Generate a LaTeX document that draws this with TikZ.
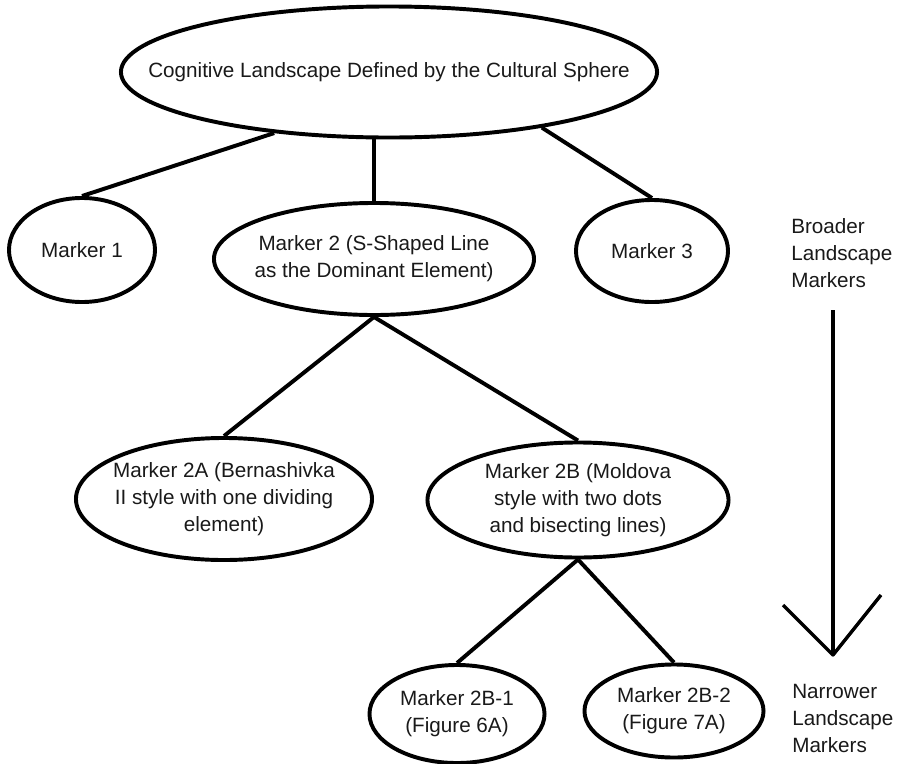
\documentclass[tikz,border=0pt]{standalone}
\usepackage{fontspec}
\setmainfont{Liberation Sans}
\usetikzlibrary{shapes.geometric}

\tikzset{
	marker/.style={ellipse, draw, line width=2.8pt, inner xsep=-1.6cm, inner ysep=0pt, align=center, text=black!90, font=\fontsize{14.7}{19.2}\selectfont},
	sidetext/.style={align=left, anchor=west, inner sep=0pt, text=black!90, font=\fontsize{14.7}{19.2}\selectfont},
	link/.style={line width=2.8pt},
	arrowline/.style={line width=2.4pt, line join=round}
}

\begin{document}
\begin{tikzpicture}[x=0.025cm, y=-0.025cm]
		\useasboundingbox (0,0) rectangle (904,764);

		\node[marker, minimum width=13.4cm, minimum height=3.275cm] (root) at (389,72) {Cognitive Landscape Defined by the Cultural Sphere};
		\node[marker, minimum width=3.65cm, minimum height=2.6cm] (m1) at (82,250) {Marker 1};
		\node[marker, minimum width=8cm, minimum height=2.8cm] (m2) at (374,259) {Marker 2 (S-Shaped Line\\as the Dominant Element)};
		\node[marker, minimum width=3.8cm, minimum height=2.55cm] (m3) at (652,251) {Marker 3};
		\node[marker, minimum width=7.4cm, minimum height=3.05cm] (m2a) at (224,499) {Marker 2A (Bernashivka\\II style with one dividing\\element)};
		\node[marker, minimum width=7.525cm, minimum height=2.875cm] (m2b) at (578,500) {Marker 2B (Moldova\\style with two dots\\and bisecting lines)};
		\node[marker, minimum width=4.375cm, minimum height=2.45cm] (m2b1) at (457,714) {Marker 2B-1\\(Figure 6A)};
		\node[marker, minimum width=4.475cm, minimum height=2.325cm] (m2b2) at (674,711) {Marker 2B-2\\(Figure 7A)};

		\node[sidetext] (broad) at (791,253) {Broader\\Landscape\\Markers};
		\node[sidetext] (narrow) at (792,718) {Narrower\\Landscape\\Markers};

		\coordinate (arrtop) at (833,310);
		\coordinate (arrtip) at (833,655);
		\coordinate (arrleft) at (783,605);
		\coordinate (arrright) at (881,595);

		\path[link] (root.208) edge (m1.north);
		\path[link] (m2.north |- root.south) edge (m2.north);
		\path[link] (root.340) edge (m3.north);
		\path[link] (m2.south) edge (m2a.north);
		\path[link] (m2.south) edge (m2b.north);
		\path[link] (m2b.south) edge (m2b1.north);
		\path[link] (m2b.south) edge (m2b2.north);

		\draw[arrowline] (arrtop) -- (arrtip);
		\draw[arrowline] (arrleft) -- (arrtip) -- (arrright);
\end{tikzpicture}
\end{document}
